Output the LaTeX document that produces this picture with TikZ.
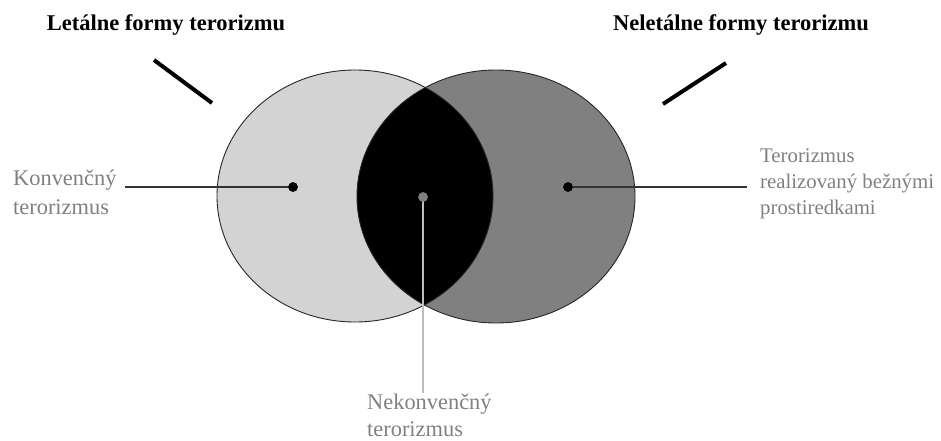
\documentclass[tikz,border=0pt]{standalone}
\usepackage{fontspec}
\setmainfont{Liberation Serif}
\definecolor{lightfill}{RGB}{211,211,211}
\definecolor{darkfill}{RGB}{128,128,128}
\definecolor{labelgray}{RGB}{128,128,128}
\definecolor{stemgray}{RGB}{190,190,190}
\tikzset{
  title/.style={font=\fontsize{22.5}{27}\selectfont\bfseries, inner sep=0pt},
  label/.style={font=\fontsize{20.8}{26}\selectfont, text=labelgray, align=left, inner sep=0pt, anchor=west},
  biglabel/.style={label, font=\fontsize{22.4}{29}\selectfont},
  pointer/.style={line width=4pt},
  leader/.style={line width=1.1pt, draw=black!80},
  dotb/.style={circle, fill=black, inner sep=0pt, minimum size=9.5pt},
  dotg/.style={circle, fill=darkfill, inner sep=0pt, minimum size=9.5pt},
  outline/.style={draw=black!85, line width=0.9pt}
}
\begin{document}
\begin{tikzpicture}[x=1pt,y=-1pt]
\useasboundingbox (0,0) rectangle (941,440);
% ellipses
\fill[lightfill] (355,196) ellipse [x radius=138, y radius=126];
\fill[darkfill] (496,196.5) ellipse [x radius=139, y radius=126.5];
\begin{scope}
  \clip (355,196) ellipse [x radius=138, y radius=126];
  \fill[black] (496,196.5) ellipse [x radius=139, y radius=126.5];
\end{scope}
\draw[outline] (355,196) ellipse [x radius=138, y radius=126];
\draw[outline] (496,196.5) ellipse [x radius=139, y radius=126.5];
% titles
\node[title] (tl) at (166,25) {Letálne formy terorizmu};
\node[title] (tr) at (741,25) {Neletálne formy terorizmu};
\coordinate (pl1) at (154,60);
\coordinate (pl2) at (212,103);
\coordinate (pr1) at (663,104);
\coordinate (pr2) at (726,63);
\draw[pointer] (pl1) -- (pl2);
\draw[pointer] (pr1) -- (pr2);
% labels
\node[biglabel] (kt) at (13,192) {Konvenčný\\terorizmus};
\node[label] (rt) at (760,184) {Terorizmus\\realizovaný bežnými\\prostiredkami};
\node[label, font=\fontsize{22.4}{27}\selectfont] (nt) at (367,415) {Nekonvenčný\\terorizmus};
% dots and leaders
\node[dotb] (ld) at (293,187) {};
\node[dotb] (rd) at (568,187) {};
\node[dotg] (cd) at (423,197) {};
\coordinate (lend) at (125,187);
\coordinate (rend) at (747,187);
\coordinate (cend) at (423,393);
\draw[leader] (lend) -- (ld.center);
\draw[leader] (rd.center) -- (rend);
\draw[line width=1.2pt, draw=stemgray] (cd.center) -- (cend);
\node[dotb] at (ld) {};
\node[dotb] at (rd) {};
\node[dotg] at (cd) {};
\end{tikzpicture}
\end{document}
